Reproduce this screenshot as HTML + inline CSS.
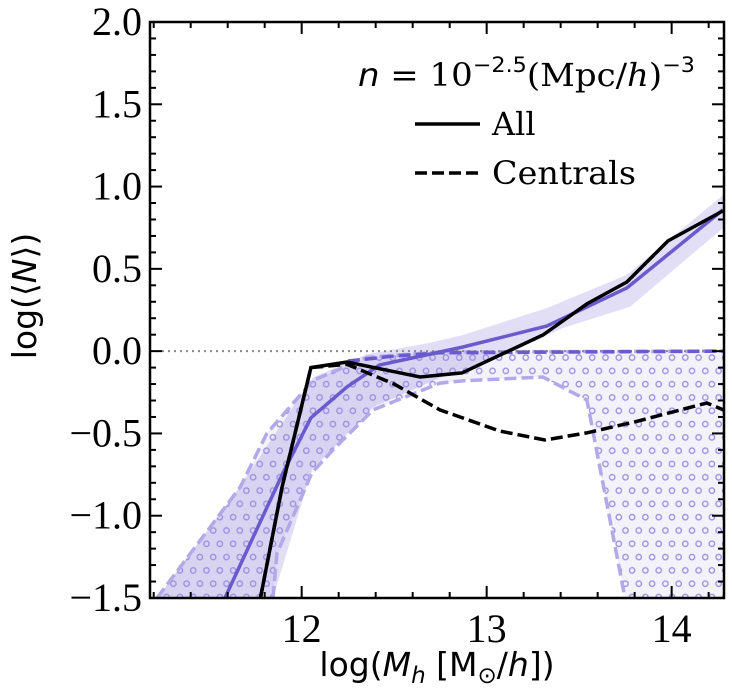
<!DOCTYPE html>
<html><head><meta charset="utf-8"><style>
body{margin:0;background:#fff}
svg{display:block}
.tl{font-family:"Liberation Serif","DejaVu Serif",serif;font-size:40px;fill:#000}
.lg{font-family:"DejaVu Serif","Liberation Serif",serif;font-size:32px;fill:#000}
.at{font-family:"DejaVu Sans","Liberation Sans",sans-serif;font-size:33px;fill:#000}
</style></head><body>
<svg id="chart" width="732" height="693" viewBox="0 0 732 693" xmlns="http://www.w3.org/2000/svg">
<defs>
<pattern id="circ" width="13.3" height="26.6" patternUnits="userSpaceOnUse" x="150" y="351">
<circle cx="3.3" cy="6.6" r="2.7" fill="none" stroke="#9d8fe0" stroke-width="1.3"/>
<circle cx="10" cy="19.9" r="2.7" fill="none" stroke="#9d8fe0" stroke-width="1.3"/>
</pattern>
<clipPath id="pc"><rect x="150" y="22" width="574" height="576"/></clipPath>
</defs>
<g id="plot" clip-path="url(#pc)"></g>
<g id="axes"></g>
<text class="lg" x="358" y="86" textLength="337" lengthAdjust="spacingAndGlyphs"><tspan font-family="DejaVu Sans" font-style="italic">n</tspan> = 10<tspan dy="-14" font-size="21" font-family="DejaVu Sans">−2.5</tspan><tspan dy="14">(Mpc/</tspan><tspan font-style="italic">h</tspan>)<tspan dy="-14" font-size="21" font-family="DejaVu Sans">−3</tspan></text>
<line x1="415" y1="124" x2="480" y2="124" stroke="#000" stroke-width="3.5"/>
<text class="lg" x="492" y="135">All</text>
<line x1="415" y1="173" x2="480" y2="173" stroke="#000" stroke-width="3.5" stroke-dasharray="12,5"/>
<text class="lg" x="492" y="184" textLength="144" lengthAdjust="spacingAndGlyphs">Centrals</text>
<text class="at" x="437" y="676" text-anchor="middle">log(<tspan font-style="italic">M</tspan><tspan font-style="italic" font-size="23" dy="7">h</tspan><tspan dy="-7"> [M</tspan><tspan font-size="23" dy="7">⊙</tspan><tspan dy="-7">/</tspan><tspan font-style="italic">h</tspan>])</text>
<text class="at" transform="translate(36,296) rotate(-90)" text-anchor="middle">log(⟨<tspan font-style="italic">N</tspan>⟩)</text>
</svg>
<script>
const allX=[11.775,11.894,12.05,12.245,12.64,12.866,13.304,13.542,13.758,13.98,14.277];
const allY=[-1.51,-0.825,-0.10,-0.066,-0.157,-0.132,0.098,0.287,0.42,0.67,0.852];
const cenX=[11.775,11.894,12.05,12.245,12.5,12.747,13.07,13.315,13.54,13.8,14.19,14.28];
const cenY=[-1.51,-0.825,-0.10,-0.08,-0.2,-0.357,-0.485,-0.54,-0.497,-0.43,-0.315,-0.357];
const medX=[11.585,11.899,12.05,12.245,12.42,12.747,12.872,13.326,13.758,14.277];
const medY=[-1.5,-0.74,-0.405,-0.217,-0.084,-0.005,0.025,0.153,0.384,0.858];
const cenHiX=[11.218,11.668,11.812,12.061,12.353,12.748,14.29];
const cenHiY=[-1.5,-0.825,-0.5,-0.178,-0.038,-0.005,0];
const cenLoX=[11.845,11.866,12.055,12.169,12.386,12.748,12.876,13.304,13.542,13.748];
const cenLoY=[-1.5,-1.23,-0.74,-0.6,-0.357,-0.194,-0.18,-0.157,-0.297,-1.5];
const bandHiX=[11.218,11.668,12.06,12.35,12.69,12.872,13.326,13.758,14.29];
const bandHiY=[-1.5,-0.82,-0.16,-0.02,0.05,0.098,0.262,0.463,0.96];
const bandLoX=[11.845,12.055,12.386,12.75,13.126,13.41,13.775,14.29];
const bandLoY=[-1.5,-0.72,-0.34,-0.16,-0.01,0.14,0.27,0.76];
const xTicks=[12,13,14];
const yTicks=[-1.5,-1.0,-0.5,0.0,0.5,1.0,1.5,2.0];
const X0=150,X1=724,Y0=22,Y1=598,XMIN=11.18,XMAX=14.283,YMIN=-1.5,YMAX=2.0;
const sx=v=>X0+(v-XMIN)/(XMAX-XMIN)*(X1-X0);
const sy=v=>Y1-(v-YMIN)/(YMAX-YMIN)*(Y1-Y0);
const NS="http://www.w3.org/2000/svg";
const plot=document.getElementById('plot'),axes=document.getElementById('axes');
function mk(tag,attrs,parent){const e=document.createElementNS(NS,tag);for(const k in attrs)e.setAttribute(k,attrs[k]);parent.appendChild(e);return e;}
const pts=(xs,ys)=>xs.map((x,i)=>sx(x).toFixed(1)+','+sy(ys[i]).toFixed(1));
let bandPts=pts(bandHiX,bandHiY).concat(pts(bandLoX,bandLoY).reverse());
let e=mk('polygon',{points:bandPts.join(' '),fill:'rgba(106,90,205,0.2)'},plot);


let cPts=pts(cenHiX,cenHiY).concat([sx(14.29)+','+sy(-1.6)]).concat(pts(cenLoX,cenLoY).reverse());
e=mk('polygon',{points:cPts.join(' '),fill:'rgba(106,90,205,0.08)'},plot);


e=mk('polygon',{points:cPts.join(' '),fill:'url(#circ)'},plot);


e=mk('polyline',{points:pts(cenHiX,cenHiY).join(' '),fill:'none',stroke:'#b3a8e8',"stroke-width":3.5,"stroke-dasharray":'12,5'},plot);


e=mk('polyline',{points:pts(cenLoX,cenLoY).join(' '),fill:'none',stroke:'#b3a8e8',"stroke-width":3.5,"stroke-dasharray":'12,5'},plot);


e=mk('line',{x1:X0,x2:X1,y1:sy(0),y2:sy(0),stroke:'#888',"stroke-width":2,"stroke-dasharray":'2,4'},plot);


e=mk('polyline',{points:pts([12.25,12.5,12.75,14.29],[-0.06,-0.03,-0.01,0]).join(' '),fill:'none',stroke:'#6a5acd',"stroke-width":3.5,"stroke-dasharray":'12,5'},plot);


e=mk('polyline',{points:pts(medX,medY).join(' '),fill:'none',stroke:'#6a5acd',"stroke-width":3.5},plot);


e=mk('polyline',{points:pts(cenX,cenY).join(' '),fill:'none',stroke:'#000',"stroke-width":3.5,"stroke-dasharray":'12,5'},plot);


e=mk('polyline',{points:pts(allX,allY).join(' '),fill:'none',stroke:'#000',"stroke-width":3.5},plot);


for(let v=11.2;v<=14.29;v+=0.2){const x=sx(v);const maj=Math.abs(v-Math.round(v))<0.01;const L=maj?12:6;
 mk('line',{x1:x,x2:x,y1:Y1,y2:Y1-L,stroke:'#000',"stroke-width":2},axes);
 mk('line',{x1:x,x2:x,y1:Y0,y2:Y0+L,stroke:'#000',"stroke-width":2},axes);}
for(let i=-15;i<=20;i++){const v=i/10,y=sy(v);const maj=i%5===0;const L=maj?12:6;
 mk('line',{x1:X0,x2:X0+L,y1:y,y2:y,stroke:'#000',"stroke-width":2},axes);
 mk('line',{x1:X1,x2:X1-L,y1:y,y2:y,stroke:'#000',"stroke-width":2},axes);}
xTicks.forEach(v=>{const t=mk('text',{x:sx(v),y:642,"text-anchor":'middle',class:'tl'},axes);t.textContent=v;
 
 });
yTicks.forEach(v=>{const t=mk('text',{x:142,y:sy(v)+13,"text-anchor":'end',class:'tl'},axes);t.textContent=(v<0?'−':'')+Math.abs(v).toFixed(1);
 
 });
e=mk('rect',{x:X0,y:Y0,width:X1-X0,height:Y1-Y0,fill:'none',stroke:'#000',"stroke-width":2.5},axes);


</script>
</body></html>
